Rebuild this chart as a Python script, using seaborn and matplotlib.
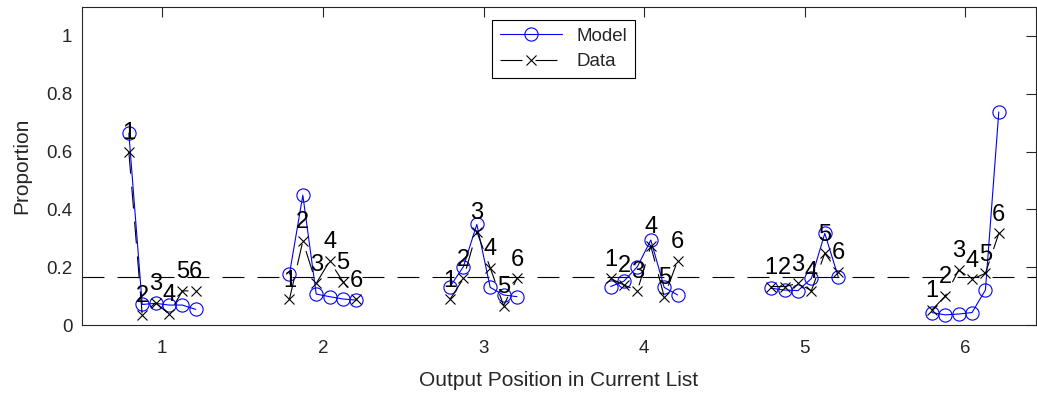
import numpy as np
import pandas as pd
import matplotlib
matplotlib.use('Agg')
import matplotlib.pyplot as plt
import seaborn as sns
from matplotlib.lines import Line2D

# values
output_positions = [1, 2, 3, 4, 5, 6]
recall_ranks = [1, 2, 3, 4, 5, 6]
model_props = [
    [0.663, 0.071, 0.075, 0.069, 0.069, 0.054],
    [0.176, 0.449, 0.107, 0.098, 0.090, 0.086],
    [0.133, 0.202, 0.348, 0.130, 0.104, 0.098],
    [0.133, 0.152, 0.202, 0.294, 0.130, 0.104],
    [0.127, 0.121, 0.119, 0.161, 0.317, 0.167],
    [0.043, 0.035, 0.038, 0.043, 0.121, 0.737],
]
data_props = [
    [0.599, 0.035, 0.077, 0.038, 0.118, 0.118],
    [0.089, 0.290, 0.144, 0.221, 0.150, 0.089],
    [0.089, 0.161, 0.323, 0.198, 0.067, 0.161],
    [0.161, 0.138, 0.119, 0.273, 0.098, 0.222],
    [0.133, 0.133, 0.144, 0.119, 0.248, 0.184],
    [0.052, 0.100, 0.190, 0.158, 0.179, 0.317],
]
chance = 1 / 6
yticks = [0, 0.2, 0.4, 0.6, 0.8, 1]
ytick_labels = ['0', '0.2', '0.4', '0.6', '0.8', '1']

sns.set_style('white')
plt.rcParams['font.family'] = ['Liberation Sans', 'DejaVu Sans']
plt.rcParams['lines.scale_dashes'] = False
axis_col = '#262626'
dash = (0, (15.8, 9.4))

rows = []
for gi, g in enumerate(output_positions):
    for ri, r in enumerate(recall_ranks):
        rows.append({'group': g, 'rank': r, 'x': g + (r - 3.5) / 12,
                     'model': model_props[gi][ri], 'data': data_props[gi][ri]})
df = pd.DataFrame(rows)

fig = plt.figure(figsize=(10.37, 3.97), dpi=100)
ax = fig.add_axes([82 / 1037, 72 / 397, 954 / 1037, 318 / 397])

ax.axhline(chance, color='black', lw=0.8, ls=dash, zorder=1)

sns.lineplot(data=df, x='x', y='model', units='group', estimator=None,
             color='blue', lw=0.8, marker='o', markersize=9.5,
             markerfacecolor='none', markeredgecolor='blue',
             markeredgewidth=0.8, legend=False, ax=ax, zorder=2)
sns.lineplot(data=df, x='x', y='data', units='group', estimator=None,
             color='black', lw=0.8, linestyle=dash, marker='x', markersize=7,
             markeredgecolor='black', markeredgewidth=0.8, legend=False,
             ax=ax, zorder=3)

# rank numbers above each data point
for _, row in df.iterrows():
    ax.text(row['x'], row['data'] + 0.044, str(int(row['rank'])),
            ha='center', va='baseline', fontsize=17, color='black', zorder=4)

ax.set_xlim(0.5, 6.44)
ax.set_ylim(0, 1.1)
ax.set_xticks(output_positions)
ax.set_xticklabels([str(p) for p in output_positions])
ax.set_yticks(yticks)
ax.set_yticklabels(ytick_labels)
ax.tick_params(direction='in', length=7, width=0.8, colors=axis_col,
               labelsize=13.5, top=True, right=True)
ax.tick_params(axis='x', pad=10.5)
ax.tick_params(axis='y', pad=7)
for sp in ax.spines.values():
    sp.set_color(axis_col)
    sp.set_linewidth(0.8)

ax.set_xlabel('Output Position in Current List', fontsize=15, color=axis_col)
ax.set_ylabel('Proportion', fontsize=15, color=axis_col)
ax.xaxis.set_label_coords(0.5, -0.145)
ax.yaxis.set_label_coords(-0.0535, 0.5)

handles = [
    Line2D([], [], color='blue', lw=0.8, marker='o', markersize=9.5,
           markerfacecolor='none', markeredgewidth=0.8, label='Model'),
    Line2D([], [], color='black', lw=0.8, ls=dash, marker='x', markersize=7,
           markeredgewidth=0.8, label='Data'),
]
leg = ax.legend(handles=handles, loc='upper center', bbox_to_anchor=(0.505, 0.959),
                borderaxespad=0, fontsize=13.5, handlelength=3.3, frameon=True,
                fancybox=False, edgecolor='black', framealpha=1,
                labelspacing=0.45)
leg.get_frame().set_linewidth(0.8)

fig.savefig('out.png', dpi=100)
